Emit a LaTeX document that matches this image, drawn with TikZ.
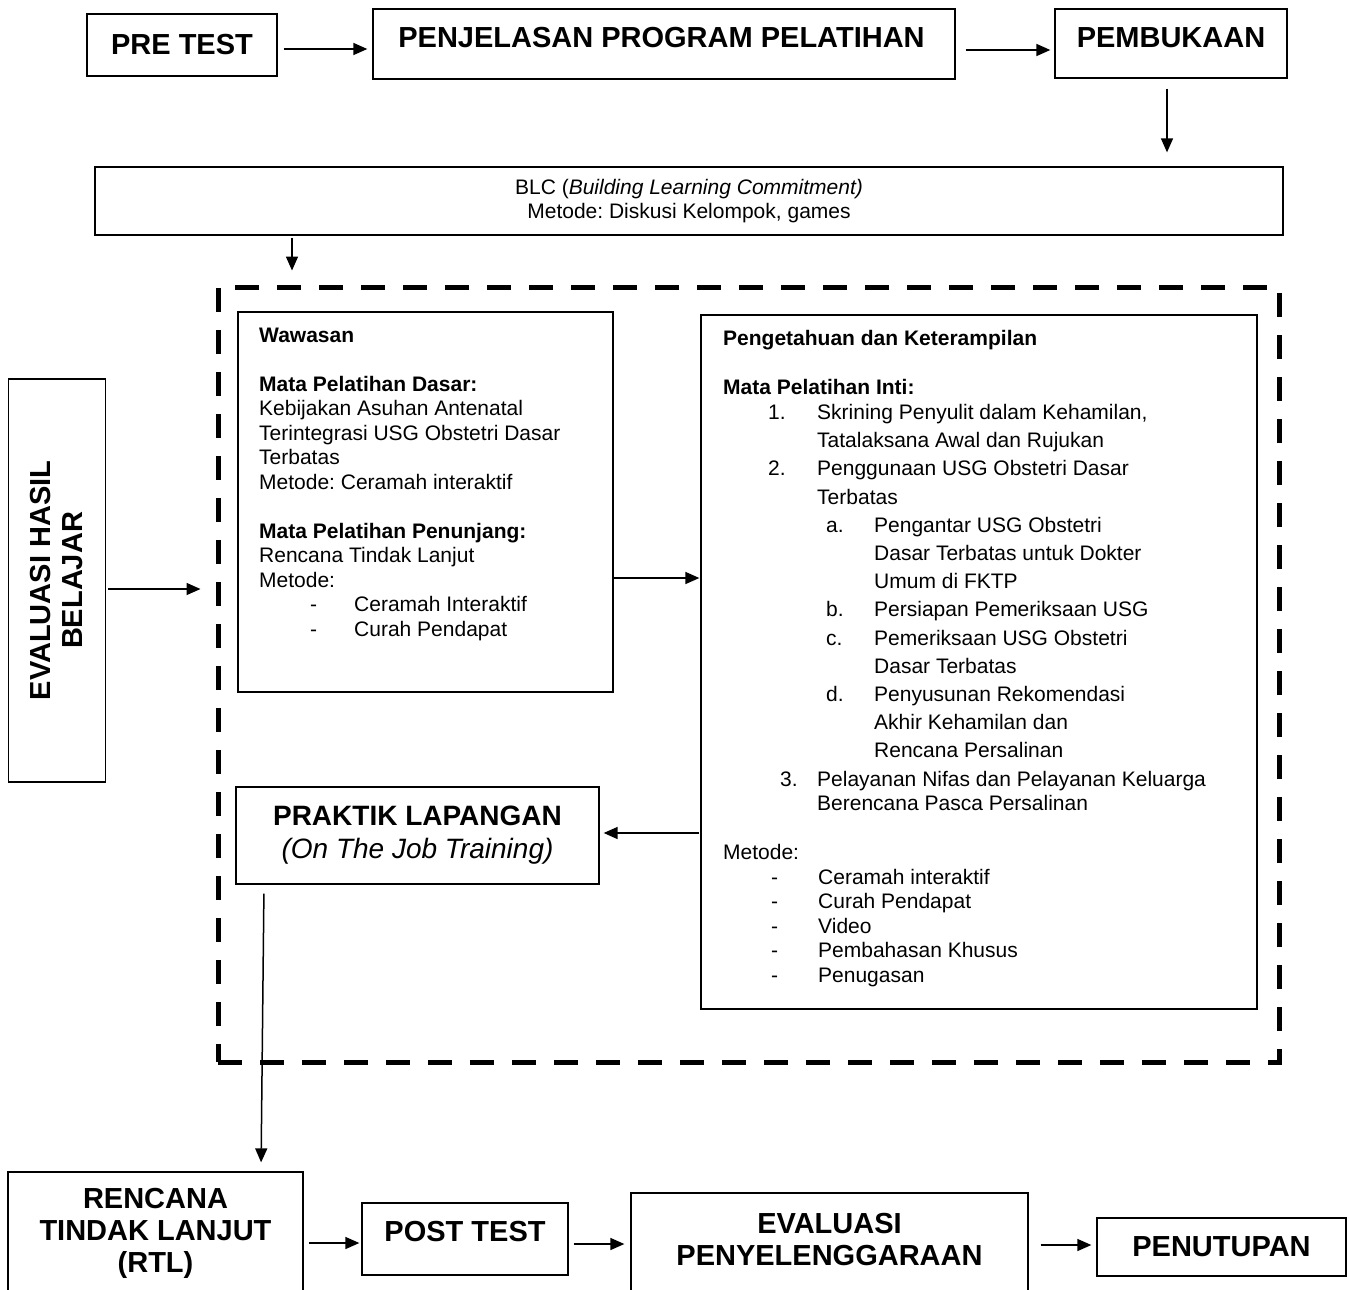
\documentclass[tikz,border=0pt]{standalone}
\usepackage{fontspec}
\setmainfont{Liberation Sans}
\usetikzlibrary{positioning, arrows.meta}
\frenchspacing

\begin{document}
\begin{tikzpicture}[x=1pt, y=-1pt,
    box/.style={draw, line width=1.3pt, inner sep=0pt},
    head/.style={font=\fontsize{29}{32}\selectfont\bfseries, align=center},
    txt/.style={font=\fontsize{21}{24.5}\selectfont},
    body/.style={txt, align=left, inner sep=0pt},
    arr/.style={-{Triangle[length=14pt, width=12pt]}, line width=1.5pt},
    dashframe/.style={draw, line width=5pt, dash pattern=on 24pt off 18pt, inner sep=0pt}]
    \path[use as bounding box, clip] (0,0) rectangle (1349,1290);

    %% top row
    \node[box, head, minimum width=190pt, minimum height=62pt] (pretest) at (182,45) {PRE TEST};
    \node[box, minimum width=582pt, minimum height=70pt] (penj) at (664,44) {};
    \node[head] (penjtext) at (661.5,38) {PENJELASAN PROGRAM PELATIHAN};
    \node[box, minimum width=232pt, minimum height=69pt] (pemb) at (1171,43.5) {};
    \node[head] (pembtext) at (1171,38) {PEMBUKAAN};
    \node[box, txt, align=center, minimum width=1188pt, minimum height=68pt] (blc) at (689,201)
        {BLC (\textit{Building Learning Commitment)}\\Metode: Diskusi Kelompok, games};

    \draw[arr, shorten <=6pt, shorten >=5pt] (pretest.east |- 0,49) -- (penj.west |- 0,49);
    \draw[arr, shorten <=10pt, shorten >=4pt] (penj.east |- 0,50) -- (pemb.west |- 0,50);
    \draw[arr, shorten <=10pt, shorten >=14pt] (1167,0 |- pemb.south) -- (1167,0 |- blc.north);

    %% middle
    \node[dashframe, minimum width=1061pt, minimum height=775pt] (core) at (748.5,674.5) {};
    \node[box, head, rotate=90, minimum width=403pt, minimum height=97pt] (evalhb) at (57,580.5)
        {EVALUASI HASIL\\BELAJAR};

    \node[box, minimum width=375pt, minimum height=380pt] (waw) at (425.5,502) {};
    \node[body, anchor=north west] (wawtext) at (259,327.5) {\textbf{Wawasan}\\[24.5pt]
        \textbf{Mata Pelatihan Dasar:}\\
        Kebijakan Asuhan Antenatal\\
        Terintegrasi USG Obstetri Dasar\\
        Terbatas\\
        Metode: Ceramah interaktif\\[24.5pt]
        \textbf{Mata Pelatihan Penunjang:}\\
        Rencana Tindak Lanjut\\
        Metode:\\
        \hspace*{51pt}\makebox[44pt][l]{-}Ceramah Interaktif\\
        \hspace*{51pt}\makebox[44pt][l]{-}Curah Pendapat};

    \node[box, minimum width=556pt, minimum height=694pt] (peng) at (979,662) {};
    \node[body, anchor=north west] (pengtext) at (723,330.5) {\textbf{Pengetahuan dan Keterampilan}\\[24.5pt]
        \textbf{Mata Pelatihan Inti:}\\
        \hspace*{45pt}\makebox[49pt][l]{1.}Skrining Penyulit dalam Kehamilan,\\[3.7pt]
        \hspace*{94pt}Tatalaksana Awal dan Rujukan\\[3.7pt]
        \hspace*{45pt}\makebox[49pt][l]{2.}Penggunaan USG Obstetri Dasar\\[3.7pt]
        \hspace*{94pt}Terbatas\\[3.7pt]
        \hspace*{103pt}\makebox[48pt][l]{a.}Pengantar USG Obstetri\\[3.7pt]
        \hspace*{151pt}Dasar Terbatas untuk Dokter\\[3.7pt]
        \hspace*{151pt}Umum di FKTP\\[3.7pt]
        \hspace*{103pt}\makebox[48pt][l]{b.}Persiapan Pemeriksaan USG\\[3.7pt]
        \hspace*{103pt}\makebox[48pt][l]{c.}Pemeriksaan USG Obstetri\\[3.7pt]
        \hspace*{151pt}Dasar Terbatas\\[3.7pt]
        \hspace*{103pt}\makebox[48pt][l]{d.}Penyusunan Rekomendasi\\[3.7pt]
        \hspace*{151pt}Akhir Kehamilan dan\\[3.7pt]
        \hspace*{151pt}Rencana Persalinan\\[3.7pt]
        \hspace*{57pt}\makebox[37pt][l]{3.}Pelayanan Nifas dan Pelayanan Keluarga\\
        \hspace*{94pt}Berencana Pasca Persalinan\\[24.5pt]
        Metode:\\
        \hspace*{48pt}\makebox[47pt][l]{-}Ceramah interaktif\\
        \hspace*{48pt}\makebox[47pt][l]{-}Curah Pendapat\\
        \hspace*{48pt}\makebox[47pt][l]{-}Video\\
        \hspace*{48pt}\makebox[47pt][l]{-}Pembahasan Khusus\\
        \hspace*{48pt}\makebox[47pt][l]{-}Penugasan};

    \node[box, align=center, font=\fontsize{28}{33}\selectfont, minimum width=363pt, minimum height=97pt] (praktik)
        at (417.5,835.5) {\textbf{PRAKTIK LAPANGAN}\\\textit{(On The Job Training)}};

    \draw[arr, shorten <=2pt, shorten >=14pt] (292,0 |- blc.south) -- (292,0 |- core.north);
    \draw[arr, shorten <=2pt, shorten >=15pt] (evalhb.south |- 0,589) -- (core.west |- 0,589);
    \draw[arr, shorten >=1pt] (waw.east |- 0,578) -- (peng.west |- 0,578);
    \draw[arr, shorten <=1pt, shorten >=4pt] (peng.west |- 0,833) -- (praktik.east |- 0,833);

    %% bottom row
    \node[box, head, minimum width=295pt, minimum height=122pt] (rtl) at (155.5,1233) {RENCANA\\TINDAK LANJUT\\(RTL)};
    \node[box, minimum width=206pt, minimum height=72pt] (post) at (465,1239) {};
    \node[head] (posttext) at (465,1232) {POST TEST};
    \node[box, minimum width=397pt, minimum height=107pt] (evalp) at (829.5,1246.5) {};
    \node[head] (evalptext) at (829.5,1240) {EVALUASI\\PENYELENGGARAAN};
    \node[box, head, minimum width=249pt, minimum height=58pt] (penutup) at (1221.5,1247) {PENUTUPAN};

    \draw[arr, shorten <=9pt, shorten >=9pt] (264,0 |- praktik.south) -- (261,0 |- rtl.north);
    \draw[arr, shorten <=5pt, shorten >=2pt] (rtl.east |- 0,1243) -- (post.west |- 0,1243);
    \draw[arr, shorten <=5pt, shorten >=6pt] (post.east |- 0,1244) -- (evalp.west |- 0,1244);
    \draw[arr, shorten <=12pt, shorten >=5pt] (evalp.east |- 0,1245) -- (penutup.west |- 0,1245);
\end{tikzpicture}
\end{document}
